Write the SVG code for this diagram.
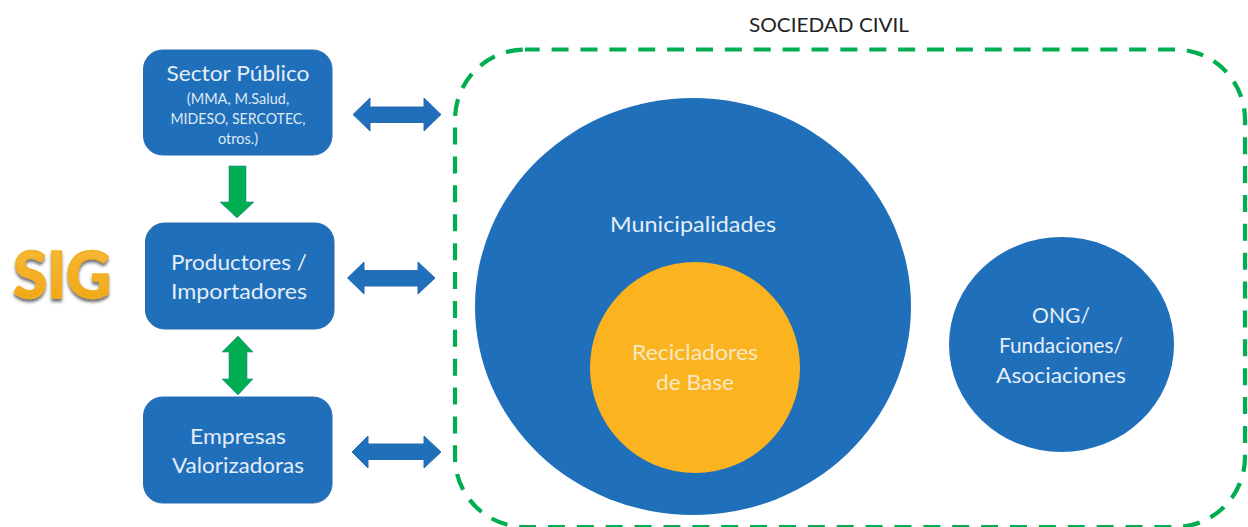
<svg xmlns="http://www.w3.org/2000/svg" width="1248" height="527" viewBox="0 0 1248 527">
<defs>
<style>
text{font-family:"Lato","Open Sans","Liberation Sans",sans-serif;text-anchor:middle}
.b{fill:#1f6fba;stroke:#2a6cb0;stroke-width:1}
.g{fill:#00ad50;stroke:#2a7f9a;stroke-width:.6}
.t{fill:#e4edf7;font-size:21px}
.s{fill:#dfe9f5;font-size:14.5px}
</style>
<filter id="sh" x="-20%" y="-20%" width="140%" height="150%"><feDropShadow dx="0" dy="3" stdDeviation="1.6" flood-color="#444" flood-opacity=".75"/></filter>
<linearGradient id="o" x1="0" y1="0" x2="0" y2="1"><stop offset="0" stop-color="#f7bd3c"/><stop offset="1" stop-color="#f0a412"/></linearGradient>
</defs>
<rect width="1248" height="527" fill="#fff"/>
<g id="sociedad-civil">
<rect x="455" y="49.500" width="790" height="477.500" rx="70" ry="70" fill="none" stroke="#00ad50" stroke-width="4.200" stroke-dasharray="17 11.880" stroke-dashoffset="2.300"/>
<text x="829" y="32" font-size="19" fill="#222" textLength="160" lengthAdjust="spacingAndGlyphs">SOCIEDAD CIVIL</text>
</g>
<g id="connectors">
<path class="b" d="M353 114.500L370 98V107H424V98L441 114.500L424 131V122.500H370V131Z"/>
<path class="b" d="M347.500 278L364 262V270.500H418V262L435 278L418 294V286H364V294Z"/>
<path class="b" d="M352 452L368 436V444H424V436L441 452L424 468V459.500H368V468Z"/>
<path class="g" d="M229 166H246V202H254L237 218L220 202H229Z"/>
<path class="g" d="M238 336L253 352H247V379H253L238 395L222 379H229V352H222Z"/>
</g>
<g id="sig"><text x="62" y="298" font-size="65" font-weight="900" fill="url(#o)" stroke="#f2ae20" stroke-width="1.500" filter="url(#sh)" textLength="98" lengthAdjust="spacingAndGlyphs">SIG</text></g>
<g id="sector-publico">
<rect class="b" x="143.500" y="50" width="188.500" height="105" rx="19"/>
<text class="t" x="238" y="81" textLength="143" lengthAdjust="spacingAndGlyphs">Sector Público</text>
<text class="s" x="238" y="104">(MMA, M.Salud,</text>
<text class="s" x="238" y="124" textLength="135" lengthAdjust="spacingAndGlyphs">MIDESO, SERCOTEC,</text>
<text class="s" x="238" y="144">otros.)</text>
</g>
<g id="productores">
<rect class="b" x="145.500" y="223" width="188.500" height="106" rx="19"/>
<text class="t" x="239" y="270" textLength="136" lengthAdjust="spacingAndGlyphs">Productores /</text>
<text class="t" x="239" y="299" textLength="136" lengthAdjust="spacingAndGlyphs">Importadores</text>
</g>
<g id="empresas">
<rect class="b" x="143.500" y="397" width="188.500" height="106" rx="19"/>
<text class="t" x="238" y="444" textLength="96" lengthAdjust="spacingAndGlyphs">Empresas</text>
<text class="t" x="238" y="473" textLength="132" lengthAdjust="spacingAndGlyphs">Valorizadoras</text>
</g>
<g id="municipalidades">
<ellipse cx="693" cy="306.500" rx="218" ry="208.500" fill="#1f6fba"/>
<text class="t" x="693" y="232" textLength="166" lengthAdjust="spacingAndGlyphs">Municipalidades</text>
</g>
<g id="recicladores">
<ellipse cx="695" cy="367.500" rx="105" ry="105.500" fill="#fbb31f"/>
<text x="695" y="360" font-size="21" fill="#f6e9c4" textLength="126" lengthAdjust="spacingAndGlyphs">Recicladores</text>
<text x="695" y="390" font-size="21" fill="#f6e9c4" textLength="78" lengthAdjust="spacingAndGlyphs">de Base</text>
</g>
<g id="ong">
<ellipse cx="1061.500" cy="344.500" rx="112.500" ry="107.500" fill="#1f6fba"/>
<text class="t" x="1061" y="323" textLength="58" lengthAdjust="spacingAndGlyphs">ONG/</text>
<text class="t" x="1061" y="353" textLength="124" lengthAdjust="spacingAndGlyphs">Fundaciones/</text>
<text class="t" x="1061" y="383" textLength="130" lengthAdjust="spacingAndGlyphs">Asociaciones</text>
</g>
</svg>
